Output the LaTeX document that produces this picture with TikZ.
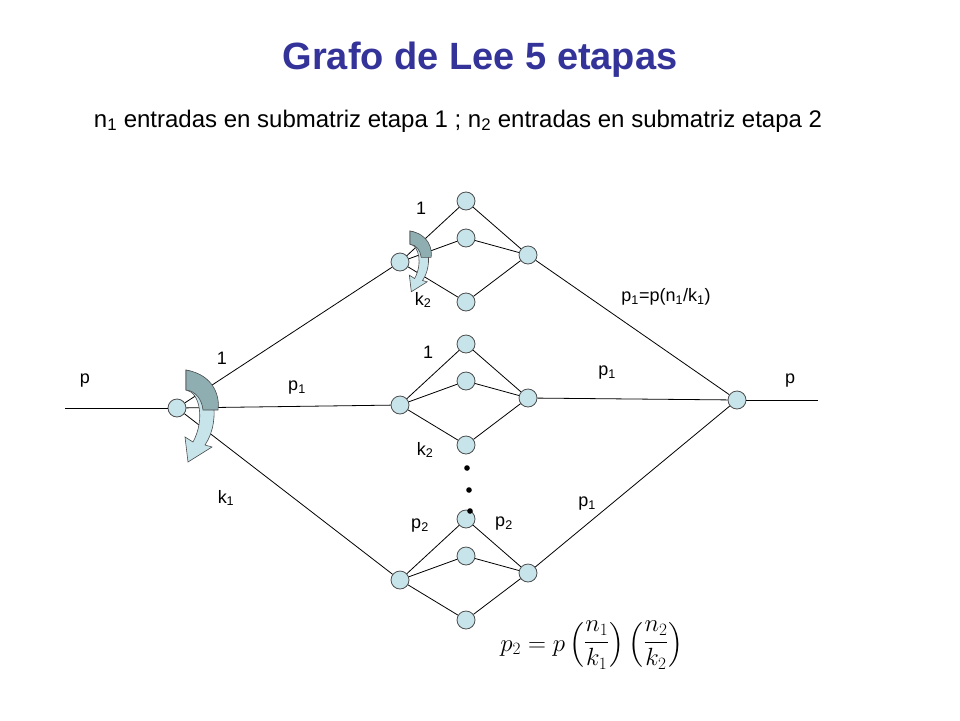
\documentclass[tikz,border=0pt]{standalone}
\usepackage{amsmath}
\usepackage{fontspec}
\setmainfont{Liberation Sans}
\usetikzlibrary{positioning}
\definecolor{nodefill}{HTML}{C6E4EA}
\definecolor{arrdark}{HTML}{8FAEB2}
\definecolor{titleblue}{HTML}{333399}
\newcommand{\sub}[1]{\textsubscript{#1}}
% curved arrow drawn in local coordinates
\newcommand{\bendarrow}{%
  \fill[nodefill,draw=black!70,line width=0.6pt] (0,0) .. controls (29,5) and (36,50) .. (19,75) -- (26,77) -- (2,92) -- (-1,67) -- (7,72) .. controls (19,50) and (14,22) .. (0,20) -- cycle;
  \fill[arrdark,draw=black!70,line width=0.6pt] (0,0) .. controls (29,5) and (34,28) .. (32,40) -- (17,40) .. controls (16,30) and (10,21) .. (0,20) -- cycle;}
\begin{document}
\begin{tikzpicture}[x=1pt,y=-1pt, line width=0.8pt,
    vert/.style={circle, draw=black!70, fill=nodefill, minimum size=18pt, inner sep=0pt},
    lbl/.style={font=\fontsize{18}{20}\selectfont, inner sep=0pt}]
  \useasboundingbox (0,0) rectangle (960,720);
  \node[font=\fontsize{38}{42}\selectfont\bfseries, text=titleblue] (title) at (480,60) {Grafo de Lee 5 etapas};
  \node[font=\fontsize{24}{26}\selectfont] (subt) at (458,121) {n\sub{1} entradas en submatriz etapa 1 ; n\sub{2} entradas en submatriz etapa 2};
  % stage 1 and output
  \coordinate (in) at (65,408);
  \coordinate (out) at (818,400);
  \node[vert] (L) at (177,408) {};
  \node[vert] (R) at (737,400) {};
  % groups
  \foreach \g/\y in {a/262, b/405, c/580} {
    \node[vert] (\g h) at (400,\y) {};
    \node[vert] (\g r) at (528,\y-7) {};
    \node[vert] (\g 1) at (466,\y-61) {};
    \node[vert] (\g 2) at (466,\y-24) {};
    \node[vert] (\g 3) at (466,\y+40) {};
    \foreach \i in {1,2,3} {
      \draw (\g h) -- (\g\i);
      \draw (\g\i) -- (\g r);
    }
    \draw (L) -- (\g h);
    \draw (\g r) -- (R);
  }
  \draw (in) -- (L);
  \draw (R) -- (out);
  % dots
  \foreach \d/\x/\y in {d1/467/468, d2/469/490, d3/470/511}
    \fill (\x,\y) circle (2.8pt);
  % curved arrows
  \begin{scope}[shift={(186,370)}]\bendarrow\end{scope}
  \begin{scope}[shift={(410,231)}, scale=0.66]\bendarrow\end{scope}
  % labels
  \node[lbl] (lp) at (85,381) {p};
  \node[lbl] (l1) at (222,358) {1};
  \node[lbl] (lp1) at (297,388) {p\sub{1}};
  \node[lbl] (lk1) at (226,498) {k\sub{1}};
  \node[lbl] (la1) at (421,208) {1};
  \node[lbl] (lak) at (423,300) {k\sub{2}};
  \node[lbl] (lb1) at (428,352) {1};
  \node[lbl] (lbk) at (425,450) {k\sub{2}};
  \node[lbl] (lcp) at (420,526) {p\sub{2}};
  \node[lbl] (lcq) at (504,524) {p\sub{2}};
  \node[lbl] (lq) at (666,297) {p\sub{1}=p(n\sub{1}/k\sub{1})};
  \node[lbl] (lr1) at (607,373) {p\sub{1}};
  \node[lbl] (lr2) at (587,504) {p\sub{1}};
  \node[lbl] (lpo) at (790,381) {p};
  \node[font=\fontsize{25}{30}\selectfont] (form) at (592,645)
    {$p_2=p\begin{pmatrix}\dfrac{n_1}{k_1}\end{pmatrix}\begin{pmatrix}\dfrac{n_2}{k_2}\end{pmatrix}$};
\end{tikzpicture}
\end{document}
